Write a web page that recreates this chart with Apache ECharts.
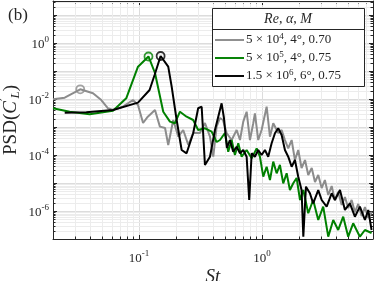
<!DOCTYPE html>
<html><head><meta charset="utf-8">
<script src="https://cdn.jsdelivr.net/npm/echarts@6/dist/echarts.min.js"></script>
<style>html,body{margin:0;padding:0;background:#fff}#c{width:374px;height:281px}</style>
</head><body><div id="c"></div>
<script>
// ---- data ----
const stGray = [0.0200,0.0249,0.0333,0.0423,0.0494,0.0560,0.0615,0.0741,0.0894,0.0982,0.108,0.118,0.135,0.148,0.163,0.173,0.190,0.209,0.229,0.252,0.276,0.313,0.344,0.378,0.402,0.428,0.456,0.482,0.516,0.567,0.623,0.663,0.705,0.751,0.799,0.850,0.877,0.933,0.994,1.092,1.162,1.236,1.357,1.446,1.538,1.636,1.744,1.855,1.973,2.10,2.24,2.38,2.54,2.70,2.87,3.06,3.25,3.46,3.69,3.92,4.17,4.45,4.73,5.03,5.36,5.70,6.07,6.47,6.88,7.32,7.84];
const psdGray = [9.75e-3,1.11e-2,2.22e-2,1.60e-2,9.2e-3,4.66e-3,4.05e-3,5.31e-3,9.2e-3,6.1e-3,1.39e-3,2.33e-3,4.05e-3,1.03e-3,9.2e-4,2.28e-4,1.78e-3,4.5e-4,7.8e-4,2.28e-4,6.1e-4,6.1e-4,1.39e-3,4.5e-4,8.7e-5,1.03e-3,2.1e-3,1.78e-3,6.1e-4,3.43e-4,7.8e-4,3.43e-4,1.55e-3,3.52e-3,3.43e-4,1.36e-3,3.08e-3,3.43e-4,7.8e-4,5.31e-3,4.5e-4,1.36e-3,6.1e-4,7.8e-4,3.43e-4,1.73e-4,3.43e-4,6.6e-5,1.51e-4,3.43e-5,6.6e-5,1.93e-5,3.43e-5,1.09e-5,1.93e-5,6.6e-6,1.28e-5,3.73e-6,7.8e-6,2.47e-6,4.77e-6,1.64e-6,3.16e-6,1.28e-6,2.47e-6,9.2e-7,1.78e-6,6.6e-7,1.39e-6,5.6e-7,9.2e-7];
const stGreen = [0.0200,0.0273,0.0397,0.0615,0.0788,0.0982,0.1195,0.135,0.1576,0.1787,0.196,0.2154,0.244,0.276,0.303,0.344,0.390,0.428,0.456,0.500,0.532,0.567,0.603,0.642,0.684,0.751,0.825,0.906,0.963,1.025,1.092,1.162,1.236,1.317,1.40,1.49,1.588,1.689,1.797,1.915,2.04,2.17,2.38,2.61,2.87,3.15,3.46,3.80,4.17,4.58,5.03,5.52,6.26,6.88,7.79];
const psdGreen = [4.66e-3,3.52e-3,2.84e-3,3.82e-3,1.06e-2,0.1425,0.330,0.0848,3.52e-3,1.55e-3,1.36e-3,3.52e-3,2.33e-3,1.78e-3,7.8e-4,9.0e-4,6.8e-4,2.91e-4,3.43e-4,6.1e-4,1.31e-4,3.43e-4,1.0e-4,2.62e-4,8.7e-5,1.51e-4,7.6e-5,1.73e-4,8.7e-5,1.68e-5,3.82e-5,1.28e-5,5.8e-5,2.22e-5,4.4e-5,9.75e-6,2.22e-5,5.6e-6,9.75e-6,1.51e-5,2.47e-6,5.6e-6,8.3e-7,2.47e-6,4.77e-7,1.43e-6,1.21e-7,4.77e-7,2.1e-7,6.25e-7,1.21e-7,3.64e-7,1.21e-7,2.1e-7,1.64e-7];
const stBlack = [0.0249,0.0373,0.0615,0.0982,0.122,0.134,0.150,0.173,0.1845,0.2025,0.2224,0.244,0.276,0.303,0.3235,0.344,0.378,0.415,0.470,0.491,0.519,0.549,0.584,0.623,0.663,0.705,0.751,0.788,0.825,0.877,0.933,0.994,1.058,1.125,1.199,1.276,1.357,1.446,1.538,1.636,1.744,1.855,1.973,2.10,2.17,2.28,2.455,2.61,2.87,3.06,3.36,3.69,3.92,4.31,4.73,5.19,5.70,6.26,6.88,7.32,7.79];
const psdBlack = [3.24e-3,3.35e-3,4.05e-3,7.4e-3,2.1e-2,7.2e-2,0.343,0.1425,2.75e-2,1.78e-3,1.51e-4,1.15e-4,5.96e-4,4.66e-3,5.31e-3,4.4e-5,8.7e-5,7.8e-4,7.0e-3,2.1e-3,1.78e-4,3.43e-4,1.31e-4,1.98e-4,1.15e-4,1.51e-4,8.7e-5,2.47e-6,1.15e-4,8.7e-5,1.51e-4,1.0e-4,1.51e-4,8.7e-5,2.62e-4,5.96e-4,9.0e-4,5.18e-4,1.51e-4,8.7e-5,3.82e-5,6.6e-5,1.68e-5,5.6e-6,1.21e-7,7.4e-6,4.29e-6,1.88e-6,5.6e-6,2.47e-6,1.43e-6,4.29e-6,2.47e-6,5.6e-6,1.09e-6,1.88e-6,6.25e-7,1.43e-6,4.77e-7,1.09e-6,2.1e-7];
const peakSt = [0.0333, 0.1195, 0.150];
const peakPsd = [2.22e-2, 0.330, 0.343];
const seriesKeys = ['s1', 's2', 's3'];
const legendLabels = ['5 × 10{sup|4}, 4°, 0.70', '5 × 10{sup|5}, 4°, 0.75', '1.5 × 10{sup|6}, 6°, 0.75'];
const yLabelExps = [-6, -4, -2, 0];
const xLabelExps = [-1, 0];

// ---- chart ----
const FONT = 'Liberation Serif';
const AX = '#262626';
const colors = ['#8c8c8c', '#008000', '#000000'];
const zip = (a, b) => a.map((v, i) => [v, b[i]]);
function powLabel(v, exps) {
  const e = Math.log10(v), r = Math.round(e);
  if (Math.abs(e - r) > 1e-6 || exps.indexOf(r) < 0) return '';
  return '{b|10}{s|' + r + '}';
}
const tickRich = {
  b: { fontFamily: FONT, fontSize: 13, color: AX, lineHeight: 16, verticalAlign: 'bottom' },
  s: { fontFamily: FONT, fontSize: 9, color: AX, lineHeight: 16, verticalAlign: 'top' }
};
const minorX = [], minorY = [];
for (let e = -2; e <= 0; e++) for (let k = 2; k <= 9; k++) { const v = k * Math.pow(10, e); if (v > 0.0201 && v < 7.99) minorX.push(v); }
for (let e = -7; e <= 1; e++) for (let k = 2; k <= 9; k++) { const v = k * Math.pow(10, e); if (v < 31) minorY.push(v); }

const GRIDMINOR = '#ececec';
function minorRender(dir) {
  return function (params, api) {
    const cs = params.coordSys;
    const kids = [];
    if (dir === 'x') {
      const x = Math.round(api.coord([api.value(0), 1])[0]) + 0.5;
      const yb = cs.y + cs.height, yt = cs.y;
      kids.push({ type: 'line', shape: { x1: x, y1: yt, x2: x, y2: yb }, style: { stroke: GRIDMINOR, lineWidth: 1 } });
      kids.push({ type: 'line', shape: { x1: x, y1: yb, x2: x, y2: yb - 2.5 }, style: { stroke: AX, lineWidth: 1 } });
      kids.push({ type: 'line', shape: { x1: x, y1: yt, x2: x, y2: yt + 2.5 }, style: { stroke: AX, lineWidth: 1 } });
    } else {
      const y = Math.round(api.coord([1, api.value(1)])[1]) + 0.5;
      const xl = cs.x, xr = cs.x + cs.width;
      kids.push({ type: 'line', shape: { x1: xl, y1: y, x2: xr, y2: y }, style: { stroke: GRIDMINOR, lineWidth: 1 } });
      kids.push({ type: 'line', shape: { x1: xl, y1: y, x2: xl + 2.5, y2: y }, style: { stroke: AX, lineWidth: 1 } });
      kids.push({ type: 'line', shape: { x1: xr, y1: y, x2: xr - 2.5, y2: y }, style: { stroke: AX, lineWidth: 1 } });
    }
    return { type: 'group', children: kids };
  };
}

const chart = echarts.init(document.getElementById('c'));
const baseX = { type: 'log', logBase: 10, min: 0.02, max: 8 };
const baseY = { type: 'log', logBase: 10, min: 1e-7, max: Math.pow(10, 1.5) };
const lineSeries = [[stGray, psdGray], [stGreen, psdGreen], [stBlack, psdBlack]].map((d, i) => ({
  name: seriesKeys[i], type: 'line', data: zip(d[0], d[1]), symbol: 'none', showSymbol: false, z: 3 + i,
  lineStyle: { color: colors[i], width: 2 }, itemStyle: { color: colors[i] }, clip: true, animation: false
}));
const markerSeries = peakSt.map((s, i) => ({
  name: 'peak' + i, type: 'scatter', data: [[s, peakPsd[i]]], symbol: 'circle', symbolSize: 8, z: 7,
  itemStyle: { color: 'rgba(255,255,255,0)', borderColor: colors[i], borderWidth: 1.8 }, animation: false, silent: true
}));
const minorSeries = [
  { name: 'minorX', type: 'custom', z: 1, silent: true, animation: false, clip: false,
    data: minorX.map(v => [v, 1]), renderItem: minorRender('x') },
  { name: 'minorY', type: 'custom', z: 1, silent: true, animation: false, clip: false,
    data: minorY.map(v => [1, v]), renderItem: minorRender('y') }
];
const option = {
  animation: false,
  backgroundColor: '#fff',
  grid: { left: 53, top: 1, right: 1, bottom: 42, containLabel: false, outerBoundsMode: 'none' },
  xAxis: [
    Object.assign({}, baseX, {
      position: 'bottom',
      name: 'St', nameLocation: 'middle', nameGap: 28, nameMoveOverlap: false,
      nameTextStyle: { fontFamily: FONT, fontSize: 19, fontStyle: 'italic', color: AX },
      axisLine: { show: true, lineStyle: { color: AX, width: 1 } },
      axisTick: { show: true, inside: true, length: 4, lineStyle: { color: AX } },
      axisLabel: { margin: 10, formatter: v => powLabel(v, xLabelExps), rich: tickRich },
      splitLine: { show: true, lineStyle: { color: '#dcdcdc', width: 1 } }
    }),
    Object.assign({}, baseX, {
      position: 'top',
      axisLine: { show: true, lineStyle: { color: AX, width: 1 } },
      axisTick: { show: true, inside: true, length: 4, lineStyle: { color: AX } },
      axisLabel: { show: false }, splitLine: { show: false }
    })
  ],
  yAxis: [
    Object.assign({}, baseY, {
      position: 'left',
      name: '{n|PSD(}{i|C}{p|′}{l|L}{n|)}', nameLocation: 'middle', nameGap: 31, nameRotate: 90, nameMoveOverlap: false,
      nameTextStyle: {
        color: AX,
        rich: {
          n: { fontFamily: FONT, fontSize: 19, color: AX, lineHeight: 22 },
          i: { fontFamily: FONT, fontSize: 19, fontStyle: 'italic', color: AX, lineHeight: 22 },
          p: { fontFamily: 'DejaVu Serif', fontSize: 11, color: AX, lineHeight: 22, verticalAlign: 'top' },
          l: { fontFamily: FONT, fontSize: 13, fontStyle: 'italic', color: AX, lineHeight: 22, verticalAlign: 'bottom' }
        }
      },
      axisLine: { show: true, lineStyle: { color: AX, width: 1 } },
      axisTick: { show: true, inside: true, length: 4, lineStyle: { color: AX } },
      axisLabel: { margin: 4, formatter: v => powLabel(v, yLabelExps), rich: tickRich },
      splitLine: { show: true, lineStyle: { color: '#dcdcdc', width: 1 } }
    }),
    Object.assign({}, baseY, {
      position: 'right',
      axisLine: { show: true, lineStyle: { color: AX, width: 1 } },
      axisTick: { show: true, inside: true, length: 4, lineStyle: { color: AX } },
      axisLabel: { show: false }, splitLine: { show: false }
    })
  ],
  legend: {
    data: seriesKeys.map((k, i) => ({ name: k, icon: 'path://M0 0H30V2H0Z', itemStyle: { color: colors[i] } })),
    orient: 'vertical', left: 215, top: 32, z: 10,
    itemWidth: 29, itemHeight: 2.2, itemGap: 2, padding: 0,
    formatter: name => legendLabels[seriesKeys.indexOf(name)],
    textStyle: {
      fontFamily: FONT, fontSize: 13, color: AX, lineHeight: 16, padding: [0, 0, 0, -3],
      rich: { sup: { fontFamily: FONT, fontSize: 9, color: AX, lineHeight: 16, verticalAlign: 'top' } }
    }
  },
  graphic: [
    { type: 'rect', z: 8, shape: { x: 212.5, y: 8.5, width: 152, height: 78 }, style: { fill: '#fff', stroke: AX, lineWidth: 1 } },
    { type: 'line', z: 9, shape: { x1: 212.5, y1: 29.5, x2: 364.5, y2: 29.5 }, style: { stroke: AX, lineWidth: 1 } },
    { type: 'text', z: 9, x: 288, y: 19, style: {
        text: '{i|Re}, {i|α}, {i|M}', align: 'center', verticalAlign: 'middle',
        font: '14px "' + FONT + '"', fill: AX,
        rich: { i: { fontFamily: FONT, fontSize: 14, fontStyle: 'italic', fill: AX } }
      } },
    { type: 'text', z: 9, x: 18, y: 16, style: { text: '(b)', align: 'center', verticalAlign: 'middle', font: '17px "' + FONT + '"', fill: AX } }
  ],
  series: minorSeries.concat(lineSeries, markerSeries)
};
chart.setOption(option);
</script>
</body></html>
